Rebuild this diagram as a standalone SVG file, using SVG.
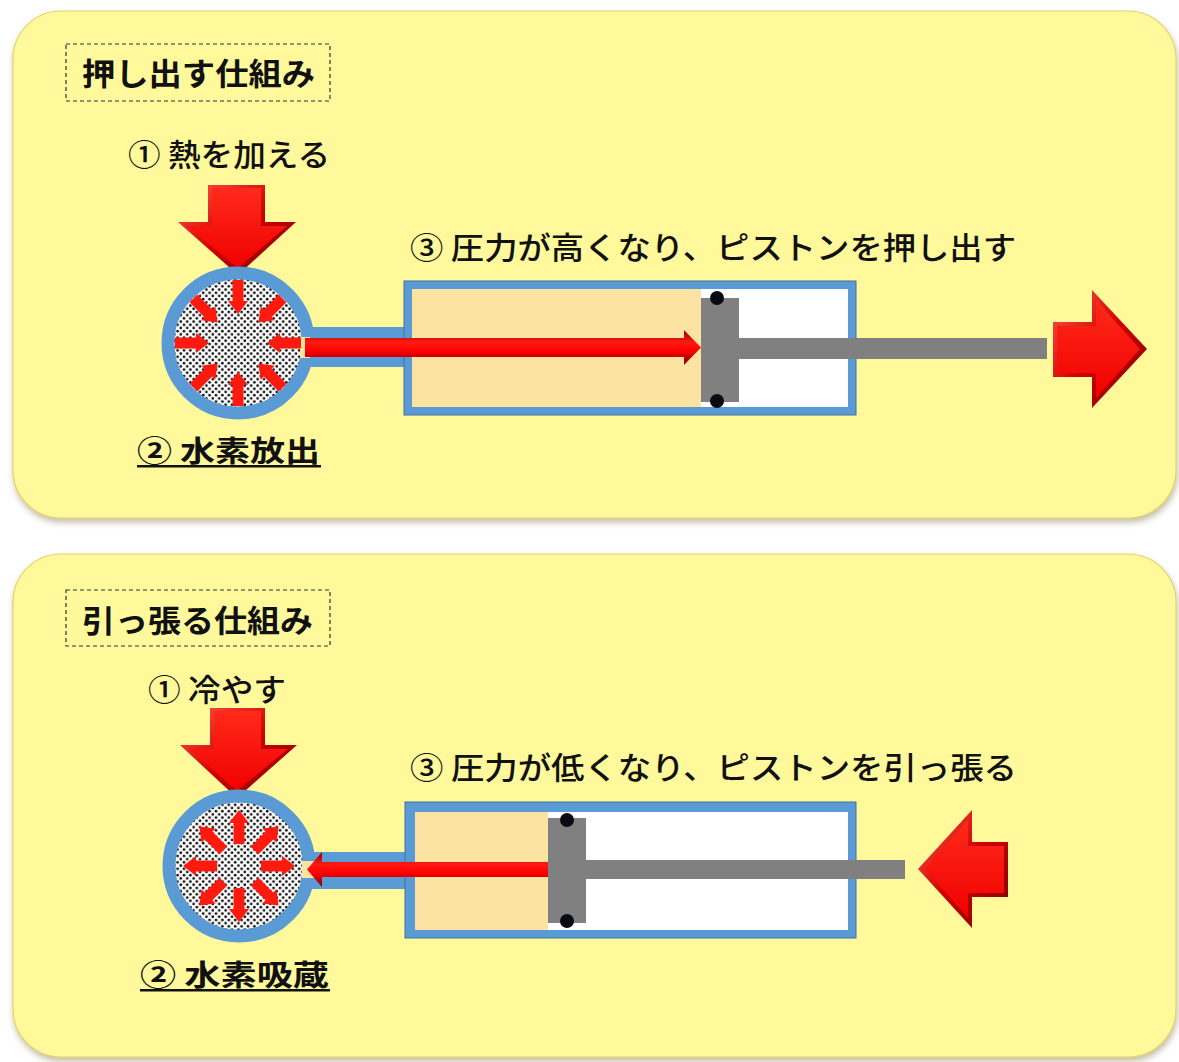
<svg xmlns="http://www.w3.org/2000/svg" width="1179" height="1062" viewBox="0 0 1179 1062">
  <style>
    .panel { fill: #FFF99C; stroke: #E3D468; stroke-width: 1.2; }
    .tag { fill: none; stroke: #333; stroke-width: 1.2; stroke-dasharray: 4 3; }
    .title { font-family: "Noto Sans CJK JP", sans-serif; font-weight: 700; font-size: 31px; fill: #111; }
    .lbl { font-family: "Noto Sans CJK JP", sans-serif; font-weight: 500; font-size: 31px; fill: #111; }
    .sub { font-family: "Noto Sans CJK JP", sans-serif; font-weight: 700; font-size: 29px; fill: #111; }
    .ring { fill: url(#grain); stroke: #5B9BD5; stroke-width: 13; }
    .pipe { fill: #5B9BD5; }
    .shell { fill: #5B9BD5; stroke: #41719C; stroke-width: 1; }
    .gas { fill: #FCE3A2; }
    .empty { fill: #FFFFFF; }
    .steel { fill: #808080; }
    .seal { fill: #0A0A14; }
    .dart { fill: #FF1A10; }
    .bevel-out { fill: url(#bevelDark); }
    .bevel-in { fill: url(#bevelLight); }
  </style>
  <defs>
    <filter id="lift" x="-5%" y="-5%" width="110%" height="115%">
      <feDropShadow dx="1" dy="4" stdDeviation="3" flood-color="#7a6e3a" flood-opacity="0.45"/>
    </filter>
    <pattern id="grain" width="6.4" height="6.4" patternUnits="userSpaceOnUse">
      <rect width="6.4" height="6.4" fill="#FFFFFF"/>
      <circle cx="1.6" cy="1.6" r="1.35" fill="#111"/>
      <circle cx="4.8" cy="4.8" r="1.35" fill="#111"/>
    </pattern>
    <linearGradient id="bevelDark" x1="0" y1="0" x2="1" y2="1">
      <stop offset="0" stop-color="#FF5A4A"/>
      <stop offset="0.5" stop-color="#D00000"/>
      <stop offset="1" stop-color="#7A0000"/>
    </linearGradient>
    <linearGradient id="bevelLight" x1="0" y1="0" x2="0" y2="1">
      <stop offset="0" stop-color="#FF2A1A"/>
      <stop offset="1" stop-color="#F00000"/>
    </linearGradient>
    <linearGradient id="tube" x1="0" y1="0" x2="0" y2="1">
      <stop offset="0" stop-color="#8A0000"/>
      <stop offset="0.35" stop-color="#FF1A10"/>
      <stop offset="0.6" stop-color="#FF0000"/>
      <stop offset="1" stop-color="#7A0000"/>
    </linearGradient>
    <!-- small arrow, tip at origin, pointing in +x direction -->
    <polygon id="dartIn" points="-34,-5.5 -13,-5.5 -13,-10 0,0 -13,10 -13,5.5 -34,5.5"/>
  </defs>

  <!-- ===== Upper panel: pushing out ===== -->
  <g id="panel-push">
    <rect class="panel" x="13" y="11" width="1163" height="507" rx="48" filter="url(#lift)"/>
    <rect class="tag" x="66" y="44" width="264" height="57"/>
    <text class="title" x="82" y="85" textLength="233" lengthAdjust="spacingAndGlyphs">押し出す仕組み</text>
    <text class="lbl" x="128" y="166" textLength="202" lengthAdjust="spacingAndGlyphs">① 熱を加える</text>
    <text class="lbl" x="410" y="259" textLength="606" lengthAdjust="spacingAndGlyphs">③ 圧力が高くなり、ピストンを押し出す</text>
    <text class="sub" x="137" y="462" textLength="183" lengthAdjust="spacingAndGlyphs">② 水素放出</text>
    <rect x="137" y="465" width="184" height="2.5" fill="#111"/>
  </g>

  <g id="heat-arrow">
    <polygon class="bevel-out" points="208,185 265,185 265,222 296,222 238,275 178,222 208,222"/>
    <polygon class="bevel-in" points="212,188 261,188 261,226 287,226 238,268 187,226 212,226"/>
  </g>

  <g id="vessel-push">
    <rect class="pipe" x="300" y="327" width="110" height="40"/>
    <circle class="ring" cx="238" cy="343" r="70"/>
    <rect class="gas" x="300" y="337" width="10" height="21"/>
    <g class="dart">
      <use href="#dartIn" transform="translate(238,343) rotate(-90) translate(-29,0)"/>
      <use href="#dartIn" transform="translate(238,343) rotate(-45) translate(-29,0)"/>
      <use href="#dartIn" transform="translate(238,343) rotate(0) translate(-29,0)"/>
      <use href="#dartIn" transform="translate(238,343) rotate(45) translate(-29,0)"/>
      <use href="#dartIn" transform="translate(238,343) rotate(90) translate(-29,0)"/>
      <use href="#dartIn" transform="translate(238,343) rotate(135) translate(-29,0)"/>
      <use href="#dartIn" transform="translate(238,343) rotate(180) translate(-29,0)"/>
      <use href="#dartIn" transform="translate(238,343) rotate(225) translate(-29,0)"/>
    </g>
  </g>

  <g id="cylinder-push">
    <rect class="shell" x="404" y="281" width="452" height="134"/>
    <rect class="empty" x="412" y="289" width="436" height="118"/>
    <rect class="gas" x="412" y="289" width="289" height="118"/>
    <polygon fill="url(#tube)" points="305,338 684,338 684,330 701,347.5 684,365 684,357 305,357"/>
    <rect class="steel" x="701" y="298" width="38" height="104"/>
    <rect class="steel" x="739" y="338" width="308" height="21"/>
    <circle class="seal" cx="717" cy="298" r="7"/>
    <circle class="seal" cx="717" cy="401" r="7"/>
  </g>

  <g id="push-arrow">
    <polygon class="bevel-out" points="1053,322 1092,322 1092,290 1147,349 1092,408 1092,377 1053,377"/>
    <polygon class="bevel-in" points="1057,326 1096,326 1096,300 1140,349 1096,398 1096,373 1057,373"/>
  </g>

  <!-- ===== Lower panel: pulling in ===== -->
  <g id="panel-pull">
    <rect class="panel" x="13" y="554" width="1163" height="503" rx="48" filter="url(#lift)"/>
    <rect class="tag" x="66" y="590" width="264" height="56"/>
    <text class="title" x="82" y="632" textLength="231" lengthAdjust="spacingAndGlyphs">引っ張る仕組み</text>
    <text class="lbl" x="148" y="701" textLength="138" lengthAdjust="spacingAndGlyphs">① 冷やす</text>
    <text class="lbl" x="410" y="779" textLength="607" lengthAdjust="spacingAndGlyphs">③ 圧力が低くなり、ピストンを引っ張る</text>
    <text class="sub" x="140" y="986" textLength="189" lengthAdjust="spacingAndGlyphs">② 水素吸蔵</text>
    <rect x="140" y="989" width="190" height="2.5" fill="#111"/>
  </g>

  <g id="cool-arrow">
    <polygon class="bevel-out" points="210,708 265,708 265,745 297,745 237,798 180,745 210,745"/>
    <polygon class="bevel-in" points="214,711 261,711 261,749 288,749 237,791 189,749 214,749"/>
  </g>

  <g id="vessel-pull">
    <rect class="pipe" x="300" y="852" width="110" height="37"/>
    <circle class="ring" cx="239" cy="866" r="70"/>
    <rect class="gas" x="302" y="861" width="12" height="17"/>
    <g class="dart">
      <use href="#dartIn" transform="translate(239,866) rotate(-90) translate(56,0)"/>
      <use href="#dartIn" transform="translate(239,866) rotate(-45) translate(56,0)"/>
      <use href="#dartIn" transform="translate(239,866) rotate(0) translate(56,0)"/>
      <use href="#dartIn" transform="translate(239,866) rotate(45) translate(56,0)"/>
      <use href="#dartIn" transform="translate(239,866) rotate(90) translate(56,0)"/>
      <use href="#dartIn" transform="translate(239,866) rotate(135) translate(56,0)"/>
      <use href="#dartIn" transform="translate(239,866) rotate(180) translate(56,0)"/>
      <use href="#dartIn" transform="translate(239,866) rotate(225) translate(56,0)"/>
    </g>
  </g>

  <g id="cylinder-pull">
    <rect class="shell" x="405" y="802" width="451" height="136"/>
    <rect class="empty" x="415" y="812" width="433" height="118"/>
    <rect class="gas" x="415" y="812" width="133" height="118"/>
    <polygon fill="url(#tube)" points="548,862 322,862 322,852 307,869.5 322,887 322,877 548,877"/>
    <rect class="steel" x="548" y="818" width="38" height="105"/>
    <rect class="steel" x="586" y="860" width="319" height="19"/>
    <circle class="seal" cx="567" cy="820" r="7"/>
    <circle class="seal" cx="567" cy="921" r="7"/>
  </g>

  <g id="pull-arrow">
    <polygon class="bevel-out" points="1008,842 972,842 972,810 918,869 972,928 972,897 1008,897"/>
    <polygon class="bevel-in" points="1004,846 968,846 968,820 925,869 968,918 968,893 1004,893"/>
  </g>
</svg>
